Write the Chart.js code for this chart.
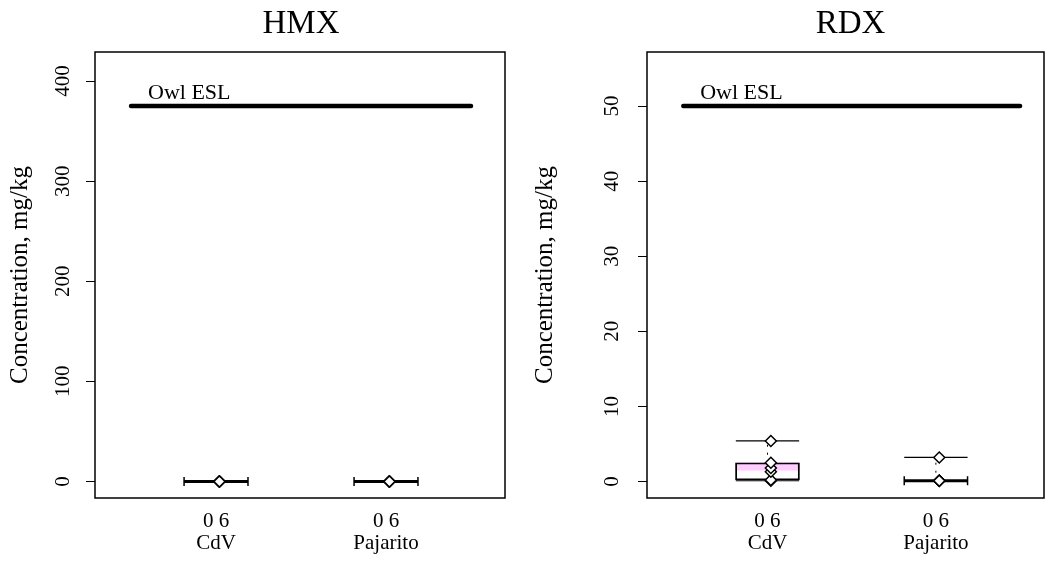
<!DOCTYPE html>
<html>
<head>
<meta charset="utf-8">
<script src="https://cdn.jsdelivr.net/npm/chart.js@4.4.1/dist/chart.umd.min.js"></script>
<style>
    body { margin: 0; background: #fff; width: 1051px; height: 567px; overflow: hidden; position: relative; }
    canvas { position: absolute; top: 0; }
</style>
</head>
<body>
<canvas id="hmxChart" width="525" height="567" style="left:0"></canvas>
<canvas id="rdxChart" width="526" height="567" style="left:525px"></canvas>
<script>
// Sites and sample counts under each box
const groups = ['CdV', 'Pajarito'];
const sampleCounts = ['0 6', '0 6'];

// HMX, mg/kg
const hmxEsl = 375;
const hmxTicks = [0, 100, 200, 300, 400];
const hmxLow = [0, 0];
const hmxQ1 = [0, 0];
const hmxMed = [0, 0];
const hmxQ3 = [0, 0];
const hmxHigh = [0, 0];
const hmxPoints = [
    [0, 0, 0, 0, 0, 0],
    [0, 0, 0, 0, 0, 0]
];

// RDX, mg/kg
const rdxEsl = 50;
const rdxTicks = [0, 10, 20, 30, 40, 50];
const rdxLow = [0.1, 0.1];
const rdxQ1 = [0.2, 0.1];
const rdxMed = [1.5, 0.1];
const rdxQ3 = [2.5, 0.1];
const rdxHigh = [5.4, 3.2];
const rdxPoints = [
    [0.1, 0.2, 1.3, 1.8, 2.5, 5.4],
    [0.1, 0.1, 0.1, 0.1, 0.1, 3.2]
];

const serif = '"Liberation Serif", "Times New Roman", serif';
const BOX_HALF = 0.188;     // half box width in x units
const POINT_SHIFT = 0.02;   // points sit a touch right of the box centre

// Frame, panel title and ESL label
const annotatePlugin = {
    id: 'annotate',
    afterDraw(chart, args, opts) {
        const { ctx, chartArea: a, scales } = chart;
        ctx.save();
        ctx.strokeStyle = '#000';
        ctx.lineWidth = 1.5;
        ctx.strokeRect(a.left, a.top, a.right - a.left, a.bottom - a.top);

        ctx.fillStyle = '#000';
        ctx.font = '33px ' + serif;
        ctx.textAlign = 'center';
        ctx.textBaseline = 'alphabetic';
        ctx.fillText(opts.title, (a.left + a.right) / 2 + (opts.titleShift || 0), 33);

        ctx.font = '22px ' + serif;
        ctx.textAlign = 'left';
        ctx.fillText(opts.label, scales.x.getPixelForValue(0.6), scales.y.getPixelForValue(opts.esl) - 7);
        ctx.restore();
    }
};

function buildDatasets(low, q1, med, q3, high, points, esl) {
    const sets = [];
    const pos = groups.map((g, i) => i + 1);

    // sample values
    sets.push({
        type: 'scatter',
        order: 0,
        data: points.flatMap((vals, i) => vals.map(v => ({ x: pos[i] + POINT_SHIFT, y: v }))),
        pointStyle: 'rectRot',
        pointRadius: 5.5,
        pointBackgroundColor: '#fff',
        pointBorderColor: '#000',
        pointBorderWidth: 1.5,
        showLine: false
    });

    // Owl ESL reference line
    sets.push({
        type: 'line',
        order: 1,
        data: [{ x: 0.5, y: esl }, { x: 2.5, y: esl }],
        borderColor: '#000',
        borderWidth: 4.5,
        borderCapStyle: 'round',
        pointRadius: 0
    });

    pos.forEach((p, i) => {
        const flat = q3[i] - q1[i] < 1e-9;
        if (flat) {
            // collapsed box: heavy bar with end ticks
            sets.push({
                type: 'line', order: 2,
                data: [{ x: p - BOX_HALF, y: q1[i] }, { x: p + BOX_HALF, y: q1[i] }],
                borderColor: '#000', borderWidth: 3, pointRadius: 0
            });
            sets.push({
                type: 'scatter', order: 2,
                data: [{ x: p - BOX_HALF, y: q1[i] }, { x: p + BOX_HALF, y: q1[i] }],
                pointStyle: 'line', rotation: 90, pointRadius: 4.5,
                pointBorderColor: '#000', pointBorderWidth: 1.5, showLine: false
            });
        } else {
            sets.push({
                type: 'bar', order: 5,
                data: [{ x: p, y: [q1[i], q3[i]] }],
                backgroundColor: 'rgba(0,0,0,0)', borderColor: '#000', borderWidth: 1.2,
                borderSkipped: false, barThickness: 64, grouped: false
            });
            sets.push({
                type: 'bar', order: 6,
                data: [{ x: p, y: [med[i], q3[i]] }],
                backgroundColor: '#ffccff', borderWidth: 0, barThickness: 64, grouped: false
            });
        }
        // whisker and staple up to the maximum
        if (high[i] > q3[i]) {
            sets.push({
                type: 'line', order: 4,
                data: [{ x: p, y: q3[i] }, { x: p, y: high[i] }],
                borderColor: '#000', borderWidth: 1, borderDash: [2, 6], pointRadius: 0
            });
            sets.push({
                type: 'line', order: 3,
                data: [{ x: p - BOX_HALF, y: high[i] }, { x: p + BOX_HALF, y: high[i] }],
                borderColor: '#000', borderWidth: 1.2, pointRadius: 0
            });
        }
        if (low[i] < q1[i]) {
            sets.push({
                type: 'line', order: 3,
                data: [{ x: p - BOX_HALF, y: low[i] }, { x: p + BOX_HALF, y: low[i] }],
                borderColor: '#000', borderWidth: 1.2, pointRadius: 0
            });
        }
    });
    return sets;
}

function makePanel(canvasId, cfg) {
    return new Chart(document.getElementById(canvasId), {
        type: 'line',
        data: { datasets: buildDatasets(cfg.low, cfg.q1, cfg.med, cfg.q3, cfg.high, cfg.points, cfg.esl) },
        options: {
            responsive: false,
            animation: false,
            devicePixelRatio: 1,
            layout: { padding: { top: 52, right: cfg.rightPad, left: 0, bottom: 0 } },
            plugins: {
                legend: { display: false },
                tooltip: { enabled: false },
                annotate: { title: cfg.title, esl: cfg.esl, label: 'Owl ESL', titleShift: cfg.titleShift }
            },
            scales: {
                x: {
                    type: 'linear',
                    min: cfg.xMin,
                    max: cfg.xMax,
                    offset: false,
                    grid: { display: false, offset: false },
                    border: { display: false },
                    afterBuildTicks: scale => { scale.ticks = groups.map((g, i) => ({ value: i + 1 })); },
                    afterFit: scale => { scale.height = 69; },
                    ticks: {
                        autoSkip: false,
                        maxRotation: 0,
                        padding: 4,
                        color: '#000',
                        font: { family: serif, size: 21, lineHeight: 1.05 },
                        callback: (value, index) => [sampleCounts[index], groups[index]]
                    }
                },
                y: {
                    type: 'linear',
                    min: cfg.yMin,
                    max: cfg.yMax,
                    afterBuildTicks: scale => { scale.ticks = cfg.ticks.map(v => ({ value: v })); },
                    afterFit: scale => { scale.width = cfg.axisWidth; },
                    grid: { drawOnChartArea: false, drawTicks: true, tickLength: 9, color: '#000', lineWidth: 1 },
                    border: { display: false },
                    ticks: {
                        minRotation: 90,
                        maxRotation: 90,
                        crossAlign: 'center',
                        padding: cfg.tickPad,
                        color: '#000',
                        font: { family: serif, size: 21 }
                    },
                    title: {
                        display: true,
                        text: 'Concentration, mg/kg',
                        color: '#000',
                        font: { family: serif, size: 25 },
                        padding: { top: 5, bottom: 0 }
                    }
                }
            }
        },
        plugins: [annotatePlugin]
    });
}

makePanel('hmxChart', {
    title: 'HMX', esl: hmxEsl, ticks: hmxTicks,
    low: hmxLow, q1: hmxQ1, med: hmxMed, q3: hmxQ3, high: hmxHigh, points: hmxPoints,
    yMin: -16.5, yMax: 429, xMin: 0.288, xMax: 2.70,
    axisWidth: 95, rightPad: 20, tickPad: 7, titleShift: 1
});

makePanel('rdxChart', {
    title: 'RDX', esl: rdxEsl, ticks: rdxTicks,
    low: rdxLow, q1: rdxQ1, med: rdxMed, q3: rdxQ3, high: rdxHigh, points: rdxPoints,
    yMin: -2.2, yMax: 57.2, xMin: 0.2845, xMax: 2.642,
    axisWidth: 122, rightPad: 2, tickPad: 15, titleShift: 5
});
</script>
</body>
</html>
